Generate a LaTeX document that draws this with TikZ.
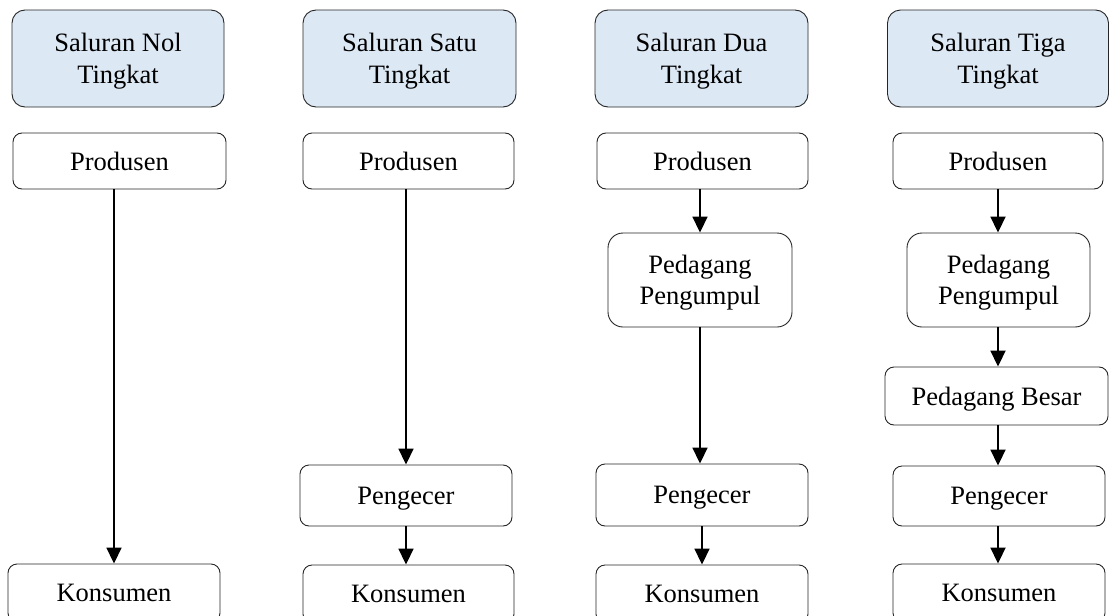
\documentclass[tikz,border=0pt]{standalone}
\usepackage{fontspec}
\setmainfont{Liberation Serif}
\usetikzlibrary{arrows.meta}
\definecolor{headblue}{RGB}{221,232,245}
\begin{document}
\begin{tikzpicture}[x=1pt,y=-1pt,
    box/.style={draw=black!85,line width=0.9pt,rounded corners=9pt,align=center,
      inner sep=0pt,text depth=0pt,font=\fontsize{26.5}{31.5}\selectfont},
    head/.style={box,fill=headblue,rounded corners=13pt,minimum height=97pt},
    arr/.style={line width=1.8pt,-{Triangle[width=15pt,length=16pt]}}]
      \useasboundingbox (0,0) rectangle (1109,616);
      \node[head,minimum width=212pt] (h1) at (118,58.5) {Saluran Nol\\Tingkat};
      \node[head,minimum width=213pt] (h2) at (409.5,58.5) {Saluran Satu\\Tingkat};
      \node[head,minimum width=213pt] (h3) at (701.5,58.5) {Saluran Dua\\Tingkat};
      \node[head,minimum width=221pt] (h4) at (998,58.5) {Saluran Tiga\\Tingkat};
      \node[box,minimum width=213pt,minimum height=56pt] (p1) at (119.5,161) {Produsen};
      \node[box,minimum width=211pt,minimum height=56pt] (p2) at (408.5,161) {Produsen};
      \node[box,minimum width=211pt,minimum height=56pt] (p3) at (702.5,161) {Produsen};
      \node[box,minimum width=210pt,minimum height=56pt] (p4) at (998,161) {Produsen};
      \node[box,rounded corners=15pt,minimum width=184pt,minimum height=94pt] (g3) at (700,280) {Pedagang\\Pengumpul};
      \node[box,rounded corners=15pt,minimum width=183pt,minimum height=94pt] (g4) at (998.5,280) {Pedagang\\Pengumpul};
      \node[box,minimum width=223pt,minimum height=58pt] (b4) at (996.5,396) {Pedagang Besar};
      \node[box,minimum width=212pt,minimum height=61pt] (e2) at (406,495.5) {Pengecer};
      \node[box,minimum width=212pt,minimum height=62pt] (e3) at (702,495) {Pengecer};
      \node[box,minimum width=212pt,minimum height=60pt] (e4) at (999,496) {Pengecer};
      \node[box,minimum width=212pt,minimum height=58pt] (k1) at (114,593) {Konsumen};
      \node[box,minimum width=211pt,minimum height=58pt] (k2) at (408.5,594) {Konsumen};
      \node[box,minimum width=212pt,minimum height=58pt] (k3) at (702,594) {Konsumen};
      \node[box,minimum width=212pt,minimum height=58pt] (k4) at (999,593) {Konsumen};
      \draw[arr] (p1.south -| k1.north) -- (k1.north);
      \draw[arr] (p2.south -| e2.north) -- (e2.north);
      \draw[arr] (e2.south) -- (e2.south |- k2.north);
      \draw[arr] (p3.south -| g3.north) -- (g3.north);
      \draw[arr] (g3.south) -- (g3.south |- e3.north);
      \draw[arr] (e3.south) -- (e3.south |- k3.north);
      \draw[arr] (p4.south) -- (p4.south |- g4.north);
      \draw[arr] (g4.south -| p4.south) -- (p4.south |- b4.north);
      \draw[arr] (b4.south -| p4.south) -- (p4.south |- e4.north);
      \draw[arr] (e4.south -| p4.south) -- (p4.south |- k4.north);
    \end{tikzpicture}
\end{document}
